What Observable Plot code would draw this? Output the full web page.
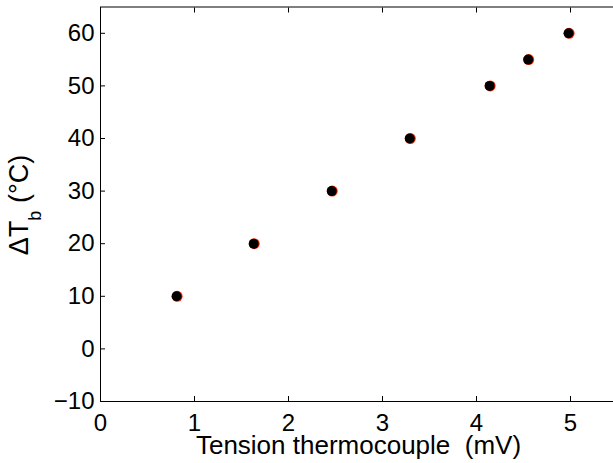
<!DOCTYPE html>
<html><head><meta charset="utf-8">
<script src="https://cdn.jsdelivr.net/npm/d3@7"></script>
<script src="https://cdn.jsdelivr.net/npm/@observablehq/plot@0.6"></script>
<style>body{margin:0;background:#fff} svg{display:block}</style>
</head><body><div id="chart"></div>
<script>
const voltage = [0.81, 1.63, 2.46, 3.29, 4.14, 4.55, 4.98];
const deltaT = [10, 20, 30, 40, 50, 55, 60];
const xTicks = [0, 1, 2, 3, 4, 5];
const yTicks = [-10, 0, 10, 20, 30, 40, 50, 60];
const xLabel = "Tension thermocouple\u00a0\u00a0(mV)";
const data = voltage.map((v, i) => ({v, t: deltaT[i]}));

const font = "'Liberation Sans', Arial, Helvetica, sans-serif";
const plot = Plot.plot({
  width: 613, height: 463,
  marginLeft: 100, marginTop: 6.5, marginBottom: 62, marginRight: -4,
  style: {fontFamily: font, fontSize: "24px", background: "#fff", color: "#000"},
  x: {domain: [0, 5.5], axis: null},
  y: {domain: [-10, 65], axis: null},
  marks: [
    Plot.axisX(xTicks, {anchor: "bottom", tickSize: 5, dy: -5, fill: "none", label: null}),
    Plot.axisX(xTicks, {anchor: "top", tickSize: 5, dy: 5, fill: "none", label: null}),
    Plot.axisY(yTicks, {anchor: "left", tickSize: 5, dx: 5, fill: "none", label: null}),
    Plot.axisY(yTicks, {anchor: "right", tickSize: 5, dx: -5, fill: "none", label: null}),
    Plot.axisX(xTicks, {anchor: "bottom", tickSize: 0, tickPadding: 12, stroke: "none", fontSize: 24, label: null}),
    Plot.axisY(yTicks, {anchor: "left", tickSize: 0, tickPadding: 6, stroke: "none", fontSize: 24, label: null}),
    Plot.frame({stroke: "#000", strokeWidth: 1}),
    Plot.dot(data, {x: "v", y: "t", r: 5.5, dx: 0.5, fill: "#ff2a00", stroke: "none"}),
    Plot.dot(data, {x: "v", y: "t", r: 5, fill: "#000", stroke: "none"})
  ]
});
document.getElementById("chart").appendChild(plot);

const svg = d3.select(plot);
svg.append("text")
  .attr("x", 358.5).attr("y", 454)
  .attr("text-anchor", "middle")
  .attr("font-family", font).attr("font-size", 26).attr("fill", "#000")
  .text(xLabel);

const yl = svg.append("text")
  .attr("transform", "translate(28,205) rotate(-90)")
  .attr("text-anchor", "middle")
  .attr("font-family", font).attr("font-size", 27).attr("fill", "#000");
yl.append("tspan").text("\u0394T");
yl.append("tspan").attr("font-size", 18).attr("dy", 13).text("b");
yl.append("tspan").attr("dy", -13).text(" (\u00b0C)");
</script>
</body></html>
